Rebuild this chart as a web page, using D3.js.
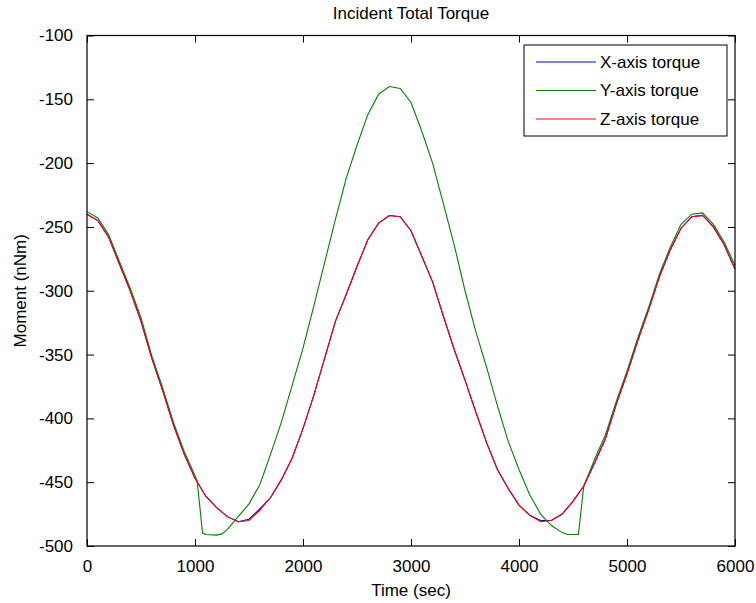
<!DOCTYPE html>
<html>
<head>
<meta charset="utf-8">
<script src="https://cdn.jsdelivr.net/npm/d3@7"></script>
<style>
  html, body { margin: 0; padding: 0; background: #fff; overflow: hidden; }
  svg { display: block; }
  svg text { font-family: "Liberation Sans", Arial, sans-serif; fill: #000; }
</style>
</head>
<body>
<div id="chart"></div>
<script>
//data
const timeXZ = [0, 100, 200, 300, 400, 500, 600, 700, 800, 900, 1000, 1100, 1200, 1300, 1400, 1500,
  1600, 1700, 1800, 1900, 2000, 2100, 2200, 2300, 2400, 2500, 2600, 2700, 2800, 2900, 3000,
  3100, 3200, 3300, 3400, 3500, 3600, 3700, 3800, 3900, 4000, 4100, 4200, 4300, 4400, 4500,
  4600, 4700, 4800, 4900, 5000, 5100, 5200, 5300, 5400, 5500, 5600, 5700, 5800, 5900, 6000];
const xTorque = [-240, -245, -258, -279, -300, -324, -353, -378, -405, -428, -447, -461, -470, -477, -481, -479,
  -471, -462, -448, -431, -408, -382, -353, -324, -303, -281, -260, -247, -241, -242, -253,
  -273, -293, -320, -346, -370, -395, -419, -440, -455, -468, -476, -480, -480, -475, -465,
  -453, -435, -416, -389, -365, -339, -315, -289, -268, -251, -242, -241, -250, -264, -283];
const zTorque = [-240, -245, -258, -279, -300, -324, -353, -378, -405, -428, -447, -461, -470, -477, -481, -480,
  -472, -462, -448, -431, -408, -382, -353, -324, -303, -281, -260, -247, -241, -242, -253,
  -273, -293, -320, -346, -370, -395, -419, -440, -455, -468, -476, -481, -480, -475, -465,
  -453, -435, -416, -389, -365, -339, -315, -289, -268, -251, -242, -241, -250, -264, -283];

const timeY = [0, 100, 200, 300, 400, 500, 600, 700, 800, 900, 1000, 1020, 1070, 1100, 1200, 1250, 1300,
  1400, 1500, 1600, 1700, 1800, 1900, 2000, 2100, 2200, 2300, 2400, 2500, 2600, 2700, 2800, 2900,
  3000, 3100, 3200, 3300, 3400, 3500, 3600, 3700, 3800, 3900, 4000, 4100, 4200, 4300, 4400, 4450,
  4550, 4600, 4700, 4800, 4900, 5000, 5100, 5200, 5300, 5400, 5500, 5600, 5700, 5800, 5900, 6000];
const yTorque = [-238, -243, -256, -277, -298, -321, -351, -376, -403, -426, -445, -449, -490, -491, -491.5, -490.5, -487,
  -477, -467, -452, -428, -403, -374, -345, -312, -278, -244, -212, -186, -162, -146, -140, -141.5,
  -152.5, -175, -200, -232, -264, -300, -332, -360, -390, -418, -440, -460, -475, -484, -489.5, -491,
  -491, -453, -432, -413, -387, -363, -337, -313, -287, -266, -248, -240, -239, -248, -262, -280];

const xTicks = [0, 1000, 2000, 3000, 4000, 5000, 6000];
const yTicks = [-500, -450, -400, -350, -300, -250, -200, -150, -100];

const seriesNames = ["X-axis torque", "Y-axis torque", "Z-axis torque"];
const seriesColors = ["#0000ff", "#008000", "#ff0000"];

const series = [
  { name: seriesNames[0], color: seriesColors[0], points: timeXZ.map((t, i) => [t, xTorque[i]]) },
  { name: seriesNames[1], color: seriesColors[1], points: timeY.map((t, i) => [t, yTorque[i]]) },
  { name: seriesNames[2], color: seriesColors[2], points: timeXZ.map((t, i) => [t, zTorque[i]]) },
];

//size
const width = 756, height = 603;
const margin = { top: 35.5, right: 21, bottom: 57, left: 87 };
const innerWidth = width - margin.left - margin.right;
const innerHeight = height - margin.top - margin.bottom;
const fontSize = 17;

//scale
const xScale = d3.scaleLinear().domain([0, 6000]).range([0, innerWidth]);
const yScale = d3.scaleLinear().domain([-500, -100]).range([innerHeight, 0]);

//create element
const svg = d3.select("#chart").append("svg")
  .attr("width", width)
  .attr("height", height);

const g = svg.append("g").attr("transform", `translate(${margin.left},${margin.top})`);

//lines
const line = d3.line().x((d) => xScale(d[0])).y((d) => yScale(d[1]));
g.append("g").attr("class", "mark")
  .selectAll("path")
  .data(series)
  .join("path")
  .attr("d", (d) => line(d.points))
  .attr("fill", "none")
  .attr("stroke", (d) => d.color)
  .attr("stroke-width", 1.1);

//axes (ticks inside, box on)
const tickLen = 7;
const plain = (d) => String(d);
function styleAxis(sel, withText) {
  sel.select(".domain").remove();
  sel.selectAll(".tick line").attr("stroke", "#000");
  if (withText) sel.selectAll(".tick text").style("font-size", fontSize + "px");
  else sel.selectAll(".tick text").remove();
}

g.append("g").attr("transform", `translate(0,${innerHeight})`)
  .call(d3.axisBottom(xScale).tickValues(xTicks).tickSize(-tickLen).tickPadding(tickLen + 7).tickFormat(plain))
  .call(styleAxis, true);
g.append("g")
  .call(d3.axisTop(xScale).tickValues(xTicks).tickSize(-tickLen))
  .call(styleAxis, false);
g.append("g")
  .call(d3.axisLeft(yScale).tickValues(yTicks).tickSize(-tickLen).tickPadding(tickLen + 7).tickFormat(plain))
  .call(styleAxis, true);
g.append("g").attr("transform", `translate(${innerWidth},0)`)
  .call(d3.axisRight(yScale).tickValues(yTicks).tickSize(-tickLen))
  .call(styleAxis, false);

g.append("rect")
  .attr("width", innerWidth)
  .attr("height", innerHeight)
  .attr("fill", "none")
  .attr("stroke", "#000")
  .attr("stroke-width", 1.2);

//legend
const legend = g.append("g").attr("transform", `translate(${524 - margin.left},${45 - margin.top})`);
legend.append("rect")
  .attr("width", 203)
  .attr("height", 91)
  .attr("fill", "#fff")
  .attr("stroke", "#000")
  .attr("stroke-width", 1);
const rows = legend.selectAll("g.row")
  .data(series)
  .join("g")
  .attr("class", "row")
  .attr("transform", (d, i) => `translate(0,${17 + i * 28.5})`);
rows.append("line")
  .attr("x1", 12).attr("x2", 72)
  .attr("stroke", (d) => d.color)
  .attr("stroke-width", 1.1);
rows.append("text")
  .attr("x", 76)
  .attr("dy", "0.35em")
  .style("font-size", fontSize + "px")
  .text((d) => d.name);

//labels
svg.append("text")
  .attr("x", margin.left + innerWidth / 2)
  .attr("y", 19)
  .attr("text-anchor", "middle")
  .style("font-size", fontSize + "px")
  .text("Incident Total Torque");

svg.append("text")
  .attr("x", margin.left + innerWidth / 2)
  .attr("y", 596)
  .attr("text-anchor", "middle")
  .style("font-size", fontSize + "px")
  .text("Time (sec)");

svg.append("text")
  .attr("transform", `translate(26,${margin.top + innerHeight / 2}) rotate(-90)`)
  .attr("text-anchor", "middle")
  .style("font-size", fontSize + "px")
  .text("Moment (nNm)");
</script>
</body>
</html>
